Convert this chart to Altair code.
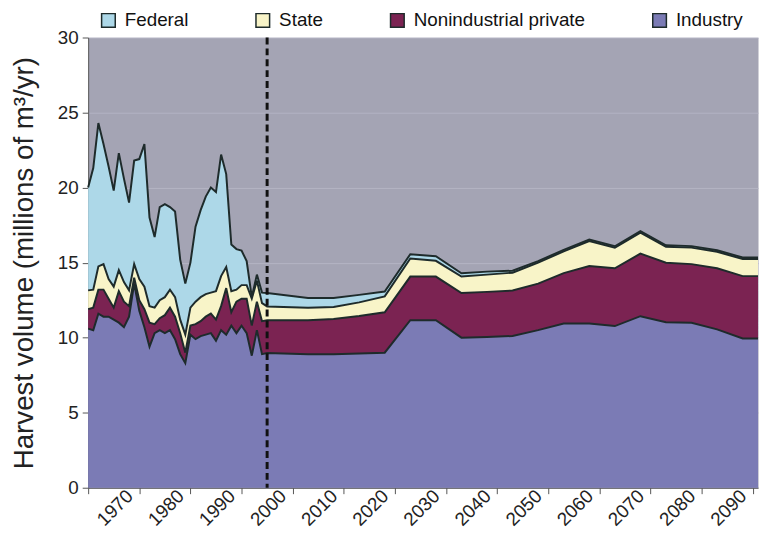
import altair as alt
import pandas as pd

# ---- data ----
years = [1960, 1961, 1962, 1963, 1964, 1965, 1966, 1967, 1968, 1969,
         1970, 1971, 1972, 1973, 1974, 1975, 1976, 1977, 1978, 1979,
         1980, 1981, 1982, 1983, 1984, 1985, 1986, 1987, 1988, 1989,
         1990, 1991, 1992, 1993, 1994,
         1995, 2003, 2008, 2013, 2018, 2023, 2028, 2033, 2038, 2043,
         2048, 2053, 2058, 2063, 2068, 2073, 2078, 2083, 2088, 2091]

industry = [10.6, 10.5, 11.6, 11.4, 11.4, 11.2, 11.0, 10.7, 11.4, 13.6,
            11.8, 10.7, 9.4, 10.3, 10.5, 10.3, 10.5, 9.9, 8.9, 8.3,
            10.2, 9.9, 10.1, 10.2, 10.3, 9.8, 10.5, 10.2, 10.8, 10.3,
            10.8, 10.3, 8.8, 10.5, 8.9,
            8.97, 8.9, 8.9, 8.95, 9.0, 11.16, 11.16, 10.0, 10.05, 10.11,
            10.5, 10.94, 10.94, 10.77, 11.43, 11.03, 10.99, 10.55, 9.94, 9.94]

nonindustrial = [1.3, 1.5, 1.6, 1.8, 1.2, 0.8, 2.1, 1.7, 0.7, 0.4,
                 0.7, 1.2, 1.6, 0.6, 0.8, 1.2, 1.5, 1.5, 1.4, 0.7,
                 0.6, 1.0, 1.0, 1.2, 1.3, 1.4, 1.6, 3.1, 0.9, 2.1,
                 1.8, 2.3, 2.0, 1.9, 2.2,
                 2.19, 2.26, 2.35, 2.5, 2.69, 2.91, 2.91, 2.97, 3.0, 3.03,
                 3.1, 3.36, 3.83, 3.85, 4.17, 3.96, 3.91, 4.07, 4.16, 4.16]

state = [1.25, 1.2, 1.55, 1.7, 1.3, 1.4, 1.4, 1.3, 1.05, 0.9,
         1.4, 1.5, 1.1, 1.1, 1.2, 1.2, 1.2, 1.3, 0.9, 1.2,
         1.2, 1.5, 1.6, 1.5, 1.4, 1.9, 2.0, 1.4, 1.4, 0.8,
         0.9, 0.9, 1.8, 1.4, 1.2,
         0.92, 0.84, 0.8, 0.9, 1.06, 1.2, 1.05, 1.1, 1.15, 1.19,
         1.4, 1.45, 1.66, 1.37, 1.4, 1.06, 1.1, 1.1, 1.14, 1.14]

federal = [6.85, 8.1, 9.55, 8.0, 7.5, 6.4, 7.8, 6.9, 5.85, 6.9,
           8.0, 9.5, 5.9, 4.7, 6.2, 6.2, 5.5, 5.7, 4.0, 3.4,
           3.0, 5.0, 5.8, 6.5, 7.0, 6.6, 8.1, 6.2, 3.1, 2.7,
           2.3, 1.6, 0.1, 0.4, 0.7,
           0.89, 0.64, 0.59, 0.5, 0.32, 0.29, 0.31, 0.22, 0.2, 0.13,
           0.1, 0.1, 0.1, 0.1, 0.1, 0.1, 0.1, 0.1, 0.1, 0.1]

owners = ["Federal", "State", "Nonindustrial private", "Industry"]
owner_colors = ["#ADD8E8", "#F8F4C8", "#7B2352", "#7B7BB5"]
edge_colors = ["#1E2B2B", "#1E2B2B", "#1E2B2B", "#1E2B2B"]
tick_years = [1960, 1970, 1980, 1990, 2000, 2010, 2020, 2030, 2040,
              2050, 2060, 2070, 2080, 2090]
y_ticks = [0, 5, 10, 15, 20, 25, 30]
projection_start = [1995]

# ---- long table ----
series = {"Industry": industry, "Nonindustrial private": nonindustrial,
          "State": state, "Federal": federal}
stack_rank = {"Industry": 0, "Nonindustrial private": 1, "State": 2, "Federal": 3}
rows = []
for name, vals in series.items():
    for yr, v in zip(years, vals):
        rows.append({"year": yr, "owner": name, "volume": v, "rank": stack_rank[name]})
df = pd.DataFrame(rows)

FONT = "Liberation Sans"
Y_TITLE = "Harvest volume (millions of m³/yr)"

legend = alt.Legend(orient="none", legendX=11, legendY=-27,
                    direction="horizontal", title=None,
                    symbolType="square", symbolSize=190,
                    symbolStrokeWidth=1.5, symbolOpacity=1,
                    labelFontSize=19, labelFont=FONT, labelLimit=400,
                    labelColor="#111111", labelOffset=7,
                    columnPadding=64)

x_enc = alt.X("year:Q", title=None,
              scale=alt.Scale(domain=[1960, 2091], nice=False, zero=False),
              axis=alt.Axis(values=tick_years, format="d",
                            labelExpr="datum.value == 1960 ? '' : datum.label",
                            labelAngle=-45, labelAlign="right",
                            labelBaseline="middle", labelOffset=-10,
                            labelPadding=-1, grid=False, tickSize=6))

areas = alt.Chart(df).mark_area(opacity=1, interpolate="linear").encode(
    x=x_enc,
    y=alt.Y("volume:Q", stack="zero", title=Y_TITLE,
            scale=alt.Scale(domain=[0, 30], nice=False),
            axis=alt.Axis(values=y_ticks,
                          grid=True, gridColor="#B4B4C4", gridWidth=1,
                          tickSize=6, labelPadding=4, titlePadding=19,
                          titleFontSize=28, titleFont=FONT,
                          titleFontWeight="normal", titleColor="#222222")),
    color=alt.Color("owner:N",
                    scale=alt.Scale(domain=owners, range=owner_colors),
                    legend=legend),
    order=alt.Order("rank:Q", sort="ascending"),
)

edges = alt.Chart(df).transform_stack(
    stack="volume", groupby=["year"], as_=["v0", "v1"],
    sort=[alt.SortField("rank", order="ascending")],
).mark_line(strokeWidth=2, interpolate="linear").encode(
    x=x_enc,
    y=alt.Y("v1:Q", title=Y_TITLE),
    stroke=alt.Stroke("owner:N",
                      scale=alt.Scale(domain=owners, range=edge_colors),
                      legend=legend),
)

divider = alt.Chart(pd.DataFrame({"year": projection_start})).mark_rule(
    color="#111111", strokeWidth=3, strokeDash=[7, 4]
).encode(x="year:Q")

chart = alt.layer(areas, edges, divider).properties(
    width=677, height=455,
    autosize=alt.AutoSizeParams(type="none"),
    padding={"left": 81, "top": 27, "right": 2, "bottom": 50},
).configure_view(
    fill="#A4A4B4", stroke="transparent"
).configure_axis(
    domainColor="#555555", tickColor="#555555",
    labelFont=FONT, labelFontSize=19, labelColor="#222222",
)

chart.save("out.html", embed_options={"renderer": "svg", "actions": False})
